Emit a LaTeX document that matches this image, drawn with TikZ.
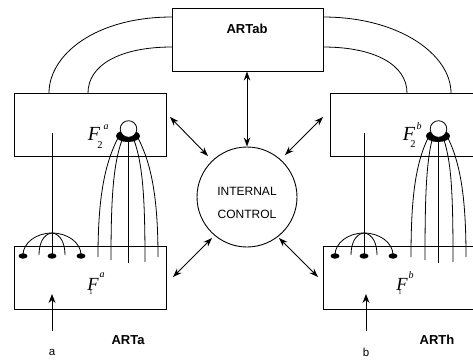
\documentclass[tikz,border=0pt]{standalone}
\usepackage{fontspec}
\setmainfont{Liberation Sans}
\newfontfamily\tnr{Liberation Serif}
\usetikzlibrary{arrows.meta,calc}
\begin{document}
\begin{tikzpicture}[x=1pt,y=-1pt,line width=0.8pt,
  box/.style={draw,inner sep=0pt,line width=0.9pt,minimum height=63pt},
  dbl/.style={{Stealth[length=9pt,width=6.5pt]}-{Stealth[length=9pt,width=6.5pt]},line width=0.9pt},
  inarrow/.style={-{Stealth[length=9pt,width=7pt]},line width=0.9pt},
  lbl/.style={inner sep=0pt,font=\fontsize{13}{13}\selectfont\bfseries},
  small/.style={inner sep=0pt,font=\fontsize{11.5}{11.5}\selectfont},
  bigF/.style={inner sep=0pt,font=\tnr\itshape\fontsize{20}{20}\selectfont},
  midF/.style={inner sep=0pt,font=\tnr\itshape\fontsize{18.5}{18.5}\selectfont},
  subs/.style={inner sep=0pt,font=\tnr\fontsize{10.5}{10.5}\selectfont},
  tinysub/.style={inner sep=0pt,font=\tnr\fontsize{6.5}{6.5}\selectfont},
  sups/.style={inner sep=0pt,font=\tnr\itshape\fontsize{10}{10}\selectfont}]
\useasboundingbox (0,0) rectangle (473,360);
\clip (0,0) rectangle (473,360);

% boxes
\node[box,minimum width=151pt] (artab) at (247.5,39.5) {};
\node[lbl] (artabtxt) at (247,29) {ARTab};
\node[box,minimum width=152pt] (f2a) at (90,124.5) {};
\node[box,minimum width=152pt] (f1a) at (90,277.5) {};
\node[box,minimum width=170pt] (f2b) at (415,124.5) {};
\node[box,minimum width=170pt] (f1b) at (408,277.5) {};

% internal control
\node[draw,circle,minimum size=100pt,inner sep=0pt,line width=0.9pt] (ic) at (247,197) {};
\node[inner sep=0pt,align=center,font=\fontsize{12}{23}\selectfont] (ictxt) at (247,203) {INTERNAL\\CONTROL};

% arcs from ARTab to F2 boxes
\draw (172,17) .. controls (95,17) and (49,55) .. (49,93);
\draw (172,47) .. controls (120,47) and (88,65) .. (88,93);
\draw (323,17) .. controls (400,17) and (451,55) .. (451,93);
\draw (323,47) .. controls (375,47) and (407,65) .. (407,93);

% arrows with internal control
\draw[dbl] (artab.south -| ic.north) -- (ic.north);
\coordinate (ul1) at (170,117); \coordinate (ul2) at (208,156);
\coordinate (ur1) at (285,155); \coordinate (ur2) at (323,117);
\coordinate (ll1) at (212,238); \coordinate (ll2) at (173,277);
\coordinate (lr1) at (279,238); \coordinate (lr2) at (318,277);
\draw[dbl] (ul1) -- (ul2);
\draw[dbl] (ur1) -- (ur2);
\draw[dbl] (ll1) -- (ll2);
\draw[dbl] (lr1) -- (lr2);

% ---------- left module ----------
\node[bigF] (f2aF) at (94,134) {F};
\node[subs] (f2asub) at (100,145) {2};
\node[sups] (f2asup) at (106,127) {a};
\node[midF] (f1aF) at (93,284) {F};
\node[tinysub] (f1asub) at (91,292) {1};
\node[sups] (f1asup) at (102,275) {a};

% vertical line and fan
\draw (52,133) -- (52,255);
\draw (23,255) .. controls (23,243) and (36,233) .. (52,233) .. controls (68,233) and (81,243) .. (81,255);
\draw (52,233) .. controls (43,234) and (39,244) .. (39,255);
\draw (52,233) .. controls (61,234) and (65,244) .. (65,255);
\fill (23,256) ellipse [x radius=4.5pt,y radius=2.7pt];
\fill (52,256) ellipse [x radius=4.5pt,y radius=2.7pt];
\fill (81,256) ellipse [x radius=4.5pt,y radius=2.7pt];

% long curves
\draw (118,138) .. controls (104,165) and (98,200) .. (98,257);
\draw (122,140) .. controls (113,165) and (111,200) .. (111,260);
\draw (128,140) -- (128,263);
\draw (134,140) .. controls (143,165) and (145,200) .. (145,262);
\draw (138,138) .. controls (152,165) and (158,200) .. (158,257);
\fill (128,136) ellipse [x radius=12pt,y radius=6pt];
\draw[fill=white] (128.5,129) circle [radius=8.3pt];

% input a
\node[small] (ina) at (52,352) {a};
\coordinate (ina0) at (52,331);
\coordinate (ina1) at (52,294);
\draw[inarrow] (ina0) -- (ina1);
\node[lbl] (arta) at (128,340) {ARTa};

% ---------- right module ----------
\node[bigF] (f2bF) at (409,134) {F};
\node[subs] (f2bsub) at (413,144) {2};
\node[sups] (f2bsup) at (419,126) {b};
\node[midF] (f1bF) at (402,284) {F};
\node[tinysub] (f1bsub) at (400,292) {1};
\node[sups] (f1bsup) at (411,275) {b};

\draw (364,133) -- (364,255);
\draw (335,255) .. controls (335,243) and (348,233) .. (364,233) .. controls (380,233) and (393,243) .. (393,255);
\draw (364,233) .. controls (355,234) and (351,244) .. (351,255);
\draw (364,233) .. controls (373,234) and (377,244) .. (377,255);
\fill (335,256) ellipse [x radius=4.5pt,y radius=2.7pt];
\fill (364,256) ellipse [x radius=4.5pt,y radius=2.7pt];
\fill (393,256) ellipse [x radius=4.5pt,y radius=2.7pt];

\draw (428,138) .. controls (415,165) and (411,200) .. (411,257);
\draw (432,140) .. controls (426,165) and (425,200) .. (425,260);
\draw (438,140) -- (438,263);
\draw (444,140) .. controls (452,165) and (453,200) .. (453,262);
\draw (448,138) .. controls (461,165) and (466,200) .. (466,257);
\fill (438,136) ellipse [x radius=12pt,y radius=6pt];
\draw[fill=white] (438.5,129) circle [radius=8.3pt];

\node[small] (inb) at (366,352) {b};
\coordinate (inb0) at (366,331);
\coordinate (inb1) at (366,294);
\draw[inarrow] (inb0) -- (inb1);
\node[lbl] (artb) at (437,340) {ARTh};
\end{tikzpicture}
\end{document}
